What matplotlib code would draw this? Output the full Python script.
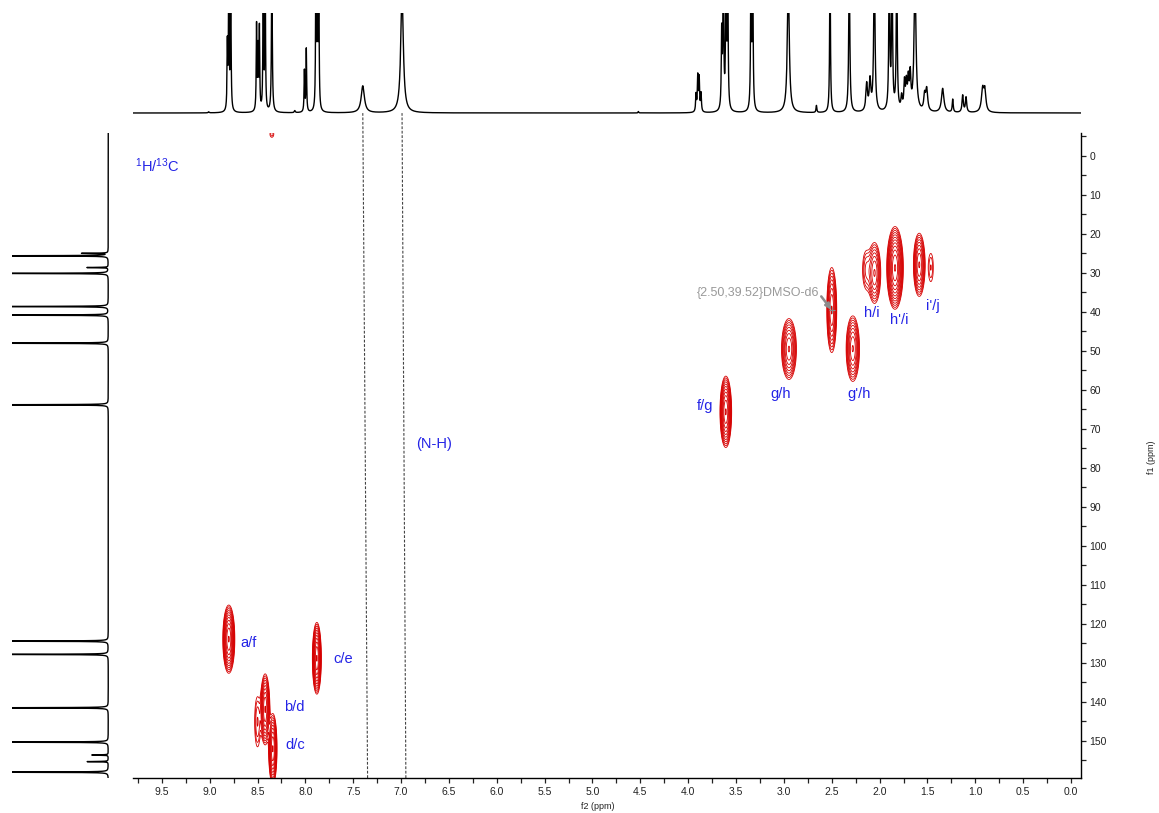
import numpy as np
import matplotlib
matplotlib.use("Agg")
import matplotlib.pyplot as plt
from matplotlib.ticker import MultipleLocator

plt.rcParams['font.family'] = ['Liberation Sans', 'DejaVu Sans']

# 1H projection: (shift ppm, height, half width ppm); height 1.0 = top of panel
h_shift = [9.01, 8.815, 8.80, 8.78, 8.51, 8.495, 8.48, 8.44, 8.42, 8.35,
           8.11, 8.01, 7.99, 7.89, 7.875, 7.86, 7.40, 6.99, 4.52,
           3.918, 3.90, 3.885, 3.866, 3.65, 3.633, 3.605, 3.587, 3.344, 3.326,
           2.954, 2.66, 2.518, 2.317, 2.135, 2.10, 2.055, 1.899, 1.87, 1.821,
           1.77, 1.74, 1.72, 1.70, 1.68, 1.63, 1.53, 1.508, 1.341, 1.236,
           1.132, 1.097, 0.923, 0.90]
h_height = [0.01, 0.65, 1.5, 1.5, 0.85, 0.6, 0.82, 1.5, 1.5, 1.5,
            0.02, 0.41, 0.63, 1.5, 1.5, 1.5, 0.27, 1.2, 0.015,
            0.17, 0.35, 0.33, 0.18, 0.75, 1.5, 1.5, 1.4, 1.5, 1.5,
            1.3, 0.07, 1.5, 1.4, 0.27, 0.3, 1.5, 1.5, 1.5, 1.5,
            0.13, 0.27, 0.25, 0.28, 0.33, 1.3, 0.15, 0.22, 0.24, 0.13,
            0.17, 0.15, 0.23, 0.2]
h_width = [0.006, 0.004, 0.004, 0.004, 0.004, 0.004, 0.004, 0.004, 0.004, 0.005,
           0.006, 0.004, 0.004, 0.004, 0.004, 0.004, 0.02, 0.016, 0.004,
           0.005, 0.005, 0.005, 0.005, 0.005, 0.005, 0.005, 0.005, 0.005, 0.005,
           0.012, 0.005, 0.005, 0.007, 0.01, 0.01, 0.008, 0.006, 0.006, 0.006,
           0.008, 0.008, 0.008, 0.008, 0.008, 0.012, 0.01, 0.012, 0.015, 0.006,
           0.008, 0.008, 0.015, 0.012]

# 13C projection
c_shift = [24.96, 25.6, 28.6, 30.1, 38.6, 40.8, 48.0, 63.8,
           124.4, 127.8, 141.5, 150.3, 153.6, 155.3, 158.0]
c_height = [0.27, 1.4, 0.22, 1.4, 1.4, 1.4, 1.4, 1.4,
            1.4, 1.4, 1.4, 1.4, 0.17, 0.22, 1.4]

# HSQC cross peaks: f2 (1H), f1 (13C), outer half extents and contour count
pk_h = [8.80, 7.88, 8.42, 8.50, 8.34, 3.607, 2.947, 2.50, 2.28,
        2.053, 2.14, 1.839, 1.586, 1.465, 8.35]
pk_c = [123.9, 128.8, 141.9, 145.1, 152.0, 65.6, 49.5, 39.5, 49.4,
        30.0, 29.2, 28.7, 27.9, 28.6, -5.6]
pk_wh = [0.063, 0.047, 0.049, 0.03, 0.044, 0.061, 0.078, 0.052, 0.07,
         0.065, 0.038, 0.087, 0.061, 0.026, 0.02]
pk_wc = [8.75, 9.2, 9.1, 6.4, 9.0, 9.15, 7.8, 10.9, 8.4,
         7.8, 4.7, 10.6, 8.1, 3.6, 0.8]
pk_n = [10, 10, 9, 3, 9, 10, 8, 8, 8, 7, 3, 11, 8, 2, 1.5]

labels = ['a/f', 'c/e', 'b/d', 'd/c', 'f/g', 'g/h', "g'/h", 'h/i', "h'/i", "i'/j"]
label_h = [8.59, 7.60, 8.12, 8.11, 3.82, 3.03, 2.22, 2.08, 1.79, 1.44]
label_c = [124.8, 128.9, 141.3, 151.0, 64.0, 61.0, 61.0, 40.2, 42.0, 38.5]


def lorentz(x, pos, height, width):
    y = np.zeros_like(x)
    for p, a, w in zip(pos, height, width):
        y += a / (1 + ((x - p) / w) ** 2)
    return y


fig = plt.figure(figsize=(11.59, 8.13), dpi=100)
ax = fig.add_axes([0.11484, 0.04305, 0.81752, 0.79385])
ax_top = fig.add_axes([0.11484, 0.85240, 0.81752, 0.13161])
ax_left = fig.add_axes([0.01035, 0.04305, 0.08887, 0.79385])

# 2D contours
base = 1.0
levels = base * 1.3 ** np.arange(0, 14)
gx = np.linspace(-0.1, 9.8, 3000)
gy = np.linspace(-7, 160, 1000)
X, Y = np.meshgrid(gx, gy)
Z = np.zeros_like(X)
for h, c, wh, wc, n in zip(pk_h, pk_c, pk_wh, pk_wc, pk_n):
    amp = base * 1.3 ** n * 1.02
    k = np.sqrt(2 * np.log(amp / base))
    sx, sy = wh / k, wc / k
    Z += amp * np.exp(-0.5 * (((X - h) / sx) ** 2 + ((Y - c) / sy) ** 2))
ax.contour(X, Y, Z, levels=levels, colors='#d60000', linewidths=0.6)

ax.set_xlim(9.8, -0.1)
ax.set_ylim(159.5, -6)
for s in ['top', 'left']:
    ax.spines[s].set_visible(False)
ax.spines['bottom'].set_linewidth(1.0)
ax.spines['right'].set_linewidth(1.0)
ax.yaxis.tick_right()
ax.xaxis.set_major_locator(MultipleLocator(0.5))
ax.xaxis.set_minor_locator(MultipleLocator(0.25))
ax.yaxis.set_major_locator(MultipleLocator(10))
ax.yaxis.set_minor_locator(MultipleLocator(5))
ax.xaxis.set_major_formatter(lambda v, p: f"{v:.1f}")
ax.yaxis.set_major_formatter(lambda v, p: f"{v:.0f}")
ax.tick_params(which='both', direction='out', length=3.5, width=0.9, labelsize=7.5,
               colors='#222222', pad=3)
ax.tick_params(axis='y', which='both', right=True, left=False)
fig.text(598 / 1159, 1 - 806 / 813, 'f2 (ppm)', ha='center', va='center', fontsize=6.5,
         color='#222222')
fig.text(1151 / 1159, 1 - 457 / 813, 'f1 (ppm)', ha='center', va='center', fontsize=6.5,
         rotation=90, color='#222222')

# labels
blue = '#2424e6'
for t, lx, ly in zip(labels, label_h, label_c):
    ax.text(lx, ly, t, color=blue, fontsize=10.5, ha='center', va='center')
ax.text(9.78, 2.5, r'$\mathregular{^{1}}$H/$\mathregular{^{13}}$C', color=blue,
        fontsize=10.5, ha='left', va='center')
ax.text(6.84, 73.9, '(N-H)', color=blue, fontsize=10.5, ha='left', va='center')

ax.text(3.27, 35.2, '{2.50,39.52}DMSO-d6', color='#999999', fontsize=9,
        ha='center', va='center')
ax.annotate('', xy=(2.50, 39.52), xytext=(2.61, 36.0),
            arrowprops=dict(arrowstyle='-|>,head_length=0.35,head_width=0.15',
                            color='#8c8c8c', lw=1.8, shrinkA=0, shrinkB=0))
ax.plot([2.50], [39.52], marker='+', color='#8c8c8c', ms=5, mew=0.8)

# N-H guide lines running up into the 1H trace
for xt, xb in [(7.40, 7.35), (6.99, 6.95)]:
    ax.plot([xb, xt], [159.5, -11.0], color='#444444', lw=0.8,
            ls=(0, (2.5, 1.5)), clip_on=False)

# 1H trace on top
hx = np.linspace(-0.1, 9.8, 20000)
ax_top.plot(hx, lorentz(hx, h_shift, h_height, h_width), color='black', lw=1.0)
ax_top.set_xlim(9.8, -0.1)
ax_top.set_ylim(-0.07, 1.0)
ax_top.axis('off')

# 13C trace on the left
cy = np.linspace(-6, 159.5, 20000)
ax_left.plot(lorentz(cy, c_shift, c_height, [0.05] * len(c_shift)), cy,
             color='black', lw=1.0)
ax_left.set_ylim(159.5, -6)
ax_left.set_xlim(1.0, -0.07)
ax_left.axis('off')

fig.savefig('out.png', dpi=100)
